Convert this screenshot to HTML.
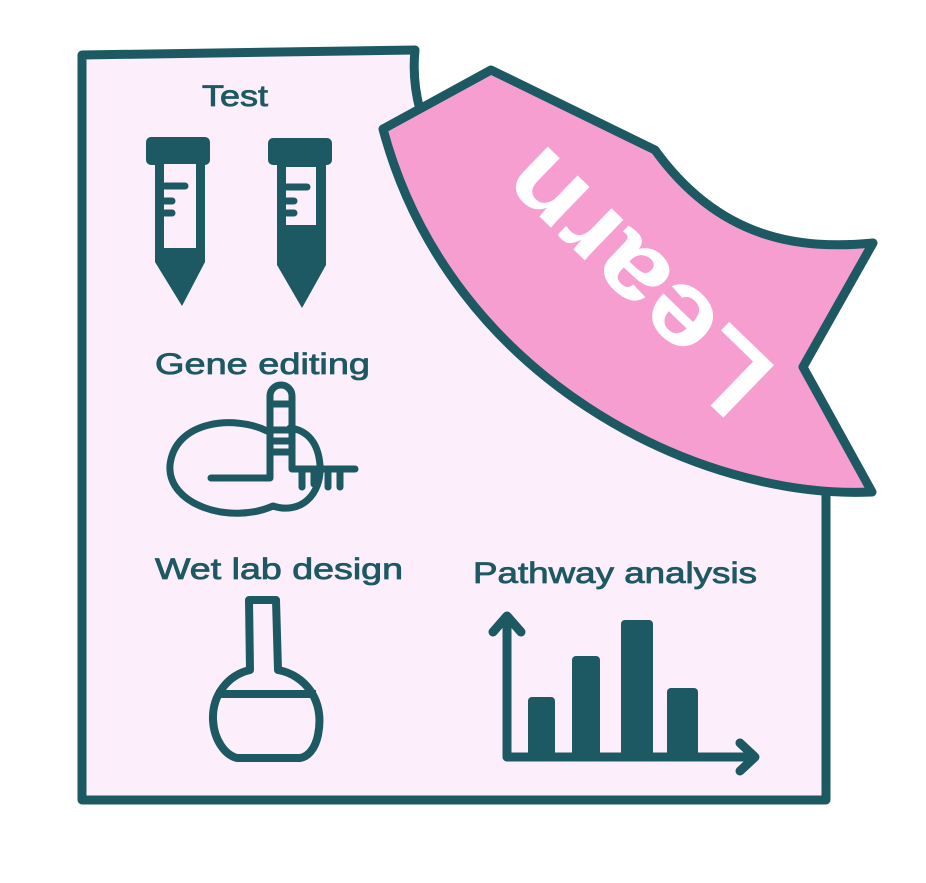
<!DOCTYPE html>
<html><head><meta charset="utf-8"><style>
html,body{margin:0;padding:0;background:#fff;}
svg{display:block;}
text{font-family:"Liberation Sans",sans-serif;}
</style></head><body>
<svg width="926" height="883" viewBox="0 0 926 883" xmlns="http://www.w3.org/2000/svg">
<g stroke="#1d5962" stroke-linejoin="round" stroke-linecap="round">
<path d="M82,55 L415,50 Q412,80 420,110 L440,200 L826,490 L826,800 L82,800 Z" fill="#fdeefc" stroke="none"/>
<path d="M420,110 Q412,80 415,50 L82,55 L82,800 L826,800 L826,490" fill="none" stroke-width="9"/>
<path d="M383,129 L491,70 L655,150 C720,240 800,250 873,243 L803,367 L872,492 C700,500 450,380 383,129 Z" fill="#f79ed0" stroke-width="9"/>
</g>
<text x="0" y="0" transform="translate(636,282) rotate(-136)" text-anchor="middle" dominant-baseline="central" font-size="106" font-weight="bold" fill="#fff" textLength="330" lengthAdjust="spacingAndGlyphs">Learn</text>

<g fill="#1d5962" stroke="#1d5962" stroke-width="0.8" font-size="30">
<text x="202" y="106" textLength="66" lengthAdjust="spacingAndGlyphs">Test</text>
<text x="155" y="374" textLength="215" lengthAdjust="spacingAndGlyphs">Gene editing</text>
<text x="155" y="579" textLength="248" lengthAdjust="spacingAndGlyphs">Wet lab design</text>
<text x="473" y="583" textLength="284" lengthAdjust="spacingAndGlyphs">Pathway analysis</text>
</g>

<g fill="#1d5962">
<rect x="146" y="137" width="64" height="28" rx="5"/>
<path d="M155,160 L205,160 L205,262 L182,306 L155,262 Z"/>
<rect x="164" y="164" width="32" height="84" fill="#fdeefc"/>
<rect x="268" y="138" width="64" height="27" rx="5"/>
<path d="M277,160 L326,160 L326,265 L302,308 L277,265 Z"/>
<rect x="286" y="167" width="30" height="58" fill="#fdeefc"/>
</g>
<g stroke="#1d5962" stroke-width="7" stroke-linecap="round">
<line x1="165" y1="186" x2="185" y2="186"/>
<line x1="165" y1="201" x2="172" y2="201"/>
<line x1="165" y1="213" x2="172" y2="213"/>
<line x1="287" y1="187" x2="307" y2="187"/>
<line x1="287" y1="201" x2="294" y2="201"/>
<line x1="287" y1="213" x2="294" y2="213"/>
</g>

<g fill="none" stroke="#1d5962" stroke-width="7" stroke-linecap="round" stroke-linejoin="round">
<path d="M267,431 C235,415 175,420 170,465 C167,505 230,525 273,506 C300,515 322,495 320,465 C318,440 305,430 290,428"/>
<path d="M211,478 L270,478 L270,396 A11,11 0 0 1 292,396 L292,469 L355,469"/>
<line x1="272" y1="404" x2="290" y2="404"/>
<line x1="272" y1="430" x2="290" y2="430"/>
<line x1="272" y1="441" x2="290" y2="441"/>
<line x1="272" y1="452" x2="290" y2="452"/>
<line x1="302" y1="471" x2="302" y2="487"/>
<line x1="328" y1="471" x2="328" y2="487"/>
<line x1="340" y1="471" x2="340" y2="487"/>
<line x1="314" y1="471" x2="314" y2="484"/>
</g>

<g fill="none" stroke="#1d5962" stroke-width="8" stroke-linejoin="round">
<path d="M250,670 L249,600 L276,600 L278,670 C305,675 325,700 318,735 C315,750 307,757 300,758 L237,758 C225,755 214,740 213,720 C212,695 228,675 250,670 Z"/>
<line x1="216" y1="694" x2="316" y2="694"/>
</g>

<g fill="#1d5962">
<rect x="528" y="697" width="27" height="60" rx="4"/>
<rect x="572" y="656" width="28" height="101" rx="4"/>
<rect x="621" y="620" width="32" height="137" rx="4"/>
<rect x="667" y="688" width="31" height="69" rx="4"/>
</g>
<g fill="none" stroke="#1d5962" stroke-width="9" stroke-linecap="round" stroke-linejoin="round">
<path d="M507,757 L507,616 M493,632 L507,616 L521,632"/>
<path d="M507,757 L755,757 M740,743 L755,757 L740,771"/>
</g>
</svg>
</body></html>
